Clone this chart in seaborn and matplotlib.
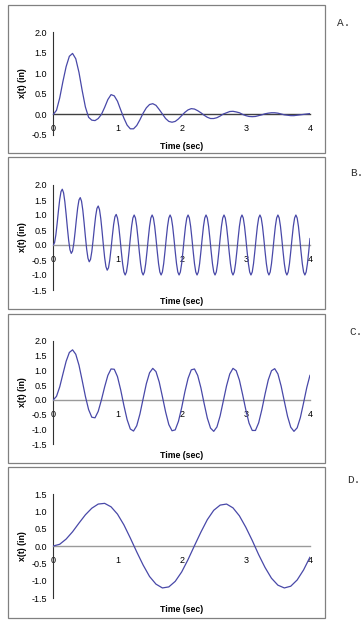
import matplotlib
matplotlib.use("Agg")
import matplotlib.pyplot as plt
from matplotlib.patches import Rectangle
import numpy as np
import seaborn as sns

W, H = 362, 636  # figure size in pixels

# sampling grids (seconds)
TIME_B = np.round(np.arange(201) * 0.02, 2)
TIME_AC = np.round(np.arange(81) * 0.05, 2)
TIME_D = np.round(np.arange(41) * 0.1, 1)

# x(t)
X_A = [
    0.00, 0.10, 0.40, 0.80, 1.16, 1.41, 1.48, 1.35, 1.02, 0.58,
    0.18, -0.07, -0.14, -0.15, -0.10, 0.00, 0.17, 0.36, 0.48, 0.45,
    0.32, 0.11, -0.09, -0.26, -0.35, -0.35, -0.27, -0.13, 0.03, 0.16,
    0.24, 0.26, 0.22, 0.12, 0.01, -0.10, -0.17, -0.19, -0.17, -0.11,
    -0.03, 0.05, 0.11, 0.14, 0.13, 0.09, 0.04, -0.02, -0.07, -0.10,
    -0.10, -0.08, -0.04, 0.01, 0.04, 0.07, 0.075, 0.06, 0.04, 0.00,
    -0.03, -0.05, -0.055, -0.05, -0.03, -0.01, 0.015, 0.03, 0.04, 0.04,
    0.03, 0.01, -0.01, -0.02, -0.03, -0.03, -0.02, -0.01, 0.00, 0.01,
    0.02,
]

X_B = [
    0.00, 0.08, 0.34, 0.72, 1.14, 1.52, 1.78, 1.86, 1.74, 1.44,
    1.02, 0.56, 0.14, -0.16, -0.28, -0.20, 0.06, 0.44, 0.86, 1.24,
    1.50, 1.58, 1.46, 1.16, 0.74, 0.28, -0.14, -0.44, -0.56, -0.48,
    -0.22, 0.16, 0.58, 0.96, 1.22, 1.30, 1.18, 0.88, 0.46, 0.00,
    -0.42, -0.72, -0.84, -0.76, -0.50, -0.12, 0.30, 0.68, 0.94, 1.02,
    0.90, 0.62, 0.22, -0.22, -0.62, -0.90,
    -1.00, -0.90, -0.62, -0.22, 0.22, 0.62, 0.90, 1.00, 0.90, 0.62, 0.22, -0.22, -0.62, -0.90,
    -1.00, -0.90, -0.62, -0.22, 0.22, 0.62, 0.90, 1.00, 0.90, 0.62, 0.22, -0.22, -0.62, -0.90,
    -1.00, -0.90, -0.62, -0.22, 0.22, 0.62, 0.90, 1.00, 0.90, 0.62, 0.22, -0.22, -0.62, -0.90,
    -1.00, -0.90, -0.62, -0.22, 0.22, 0.62, 0.90, 1.00, 0.90, 0.62, 0.22, -0.22, -0.62, -0.90,
    -1.00, -0.90, -0.62, -0.22, 0.22, 0.62, 0.90, 1.00, 0.90, 0.62, 0.22, -0.22, -0.62, -0.90,
    -1.00, -0.90, -0.62, -0.22, 0.22, 0.62, 0.90, 1.00, 0.90, 0.62, 0.22, -0.22, -0.62, -0.90,
    -1.00, -0.90, -0.62, -0.22, 0.22, 0.62, 0.90, 1.00, 0.90, 0.62, 0.22, -0.22, -0.62, -0.90,
    -1.00, -0.90, -0.62, -0.22, 0.22, 0.62, 0.90, 1.00, 0.90, 0.62, 0.22, -0.22, -0.62, -0.90,
    -1.00, -0.90, -0.62, -0.22, 0.22, 0.62, 0.90, 1.00, 0.90, 0.62, 0.22, -0.22, -0.62, -0.90,
    -1.00, -0.90, -0.62, -0.22, 0.22, 0.62, 0.90, 1.00, 0.90, 0.62, 0.22, -0.22, -0.62, -0.90,
    -1.00, -0.90, -0.62, -0.22, 0.22,
]

X_C = [
    0.00, 0.12, 0.44, 0.88, 1.31, 1.61, 1.70, 1.55, 1.18, 0.66,
    0.12, -0.33, -0.59, -0.61, -0.39, 0.00, 0.44, 0.83, 1.05, 1.04,
    0.79, 0.34, -0.19, -0.67, -0.99, -1.06, -0.88, -0.48, 0.04, 0.55,
    0.92, 1.07, 0.96, 0.61, 0.11, -0.41, -0.84, -1.05, -1.02, -0.73,
    -0.27, 0.27, 0.73, 1.02, 1.05, 0.83, 0.41, -0.12, -0.62, -0.96,
    -1.07, -0.92, -0.54, -0.03, 0.48, 0.88, 1.07, 0.99, 0.67, 0.18,
    -0.34, -0.79, -1.04, -1.04, -0.78, -0.33, 0.20, 0.68, 0.99, 1.06,
    0.88, 0.47, -0.05, -0.56, -0.93, -1.07, -0.95, -0.60, -0.10, 0.42,
    0.84,
]

X_D = [
    0.00, 0.05, 0.20, 0.41, 0.66, 0.90, 1.09, 1.21, 1.23, 1.13,
    0.92, 0.61, 0.23, -0.17, -0.55, -0.88, -1.10, -1.21, -1.18, -1.02,
    -0.75, -0.39, 0.01, 0.40, 0.76, 1.03, 1.18, 1.21, 1.10, 0.87,
    0.54, 0.16, -0.25, -0.62, -0.93, -1.13, -1.21, -1.16, -0.98, -0.69,
    -0.32,
]

LETTERS = ["A.", "B.", "C.", "D."]
XTICKS = [0, 1, 2, 3, 4]
YTICKS_A = [-0.5, 0.0, 0.5, 1.0, 1.5, 2.0]
YTICKS_BC = [-1.5, -1.0, -0.5, 0.0, 0.5, 1.0, 1.5, 2.0]
YTICKS_D = [-1.5, -1.0, -0.5, 0.0, 0.5, 1.0, 1.5]

LINE_COLOR = "#4848a8"
BOX_COLOR = "#808080"

# layout in pixels: box top/bottom, plot top/bottom, letter position, zero-axis colour
PANELS = [
    dict(t=TIME_AC, x=X_A, yticks=YTICKS_A, box=(5, 153), plot=(32, 135),
         letter=(337, 23), axis_color="#404040"),
    dict(t=TIME_B, x=X_B, yticks=YTICKS_BC, box=(157, 309), plot=(185, 290),
         letter=(350, 173), axis_color="#9a9a9a"),
    dict(t=TIME_AC, x=X_C, yticks=YTICKS_BC, box=(314, 463), plot=(341, 444),
         letter=(349, 332), axis_color="#9a9a9a"),
    dict(t=TIME_D, x=X_D, yticks=YTICKS_D, box=(467, 618), plot=(494, 598),
         letter=(347, 480), axis_color="#9a9a9a"),
]
PLOT_LEFT, PLOT_RIGHT = 53.3, 310.0
BOX_LEFT, BOX_RIGHT = 8.3, 325.0


def draw_panel(fig, panel, letter):
    top, bot = panel["plot"]
    ax = fig.add_axes([PLOT_LEFT / W, 1 - bot / H,
                       (PLOT_RIGHT - PLOT_LEFT) / W, (bot - top) / H])
    ax.patch.set_alpha(0)
    sns.lineplot(x=panel["t"], y=panel["x"], ax=ax, color=LINE_COLOR,
                 linewidth=0.9, zorder=3)
    yt = panel["yticks"]
    ax.set_xlim(0, 4)
    ax.set_ylim(yt[0], yt[-1])
    ax.spines[["top", "right"]].set_visible(False)
    ax.spines["bottom"].set_position(("data", 0))
    ax.spines["bottom"].set_color(panel["axis_color"])
    ax.spines["bottom"].set_linewidth(1.0)
    ax.spines["left"].set_color("#303030")
    ax.spines["left"].set_linewidth(0.8)
    ax.set_xticks(XTICKS)
    ax.set_xticklabels([str(v) for v in XTICKS])
    ax.set_yticks(yt)
    ax.set_yticklabels([f"{v:.1f}" for v in yt])
    ax.tick_params(axis="x", direction="out", length=2.5, width=0.8,
                   color=panel["axis_color"], pad=4.5, labelsize=6.5,
                   labelcolor="black")
    ax.tick_params(axis="y", direction="out", length=2.5, width=0.8,
                   color="#303030", pad=2.0, labelsize=6.5, labelcolor="black")
    ax.set_xlabel("")
    ax.set_ylabel("")

    b0, b1 = panel["box"]
    fig.add_artist(Rectangle((BOX_LEFT / W, 1 - b1 / H),
                             (BOX_RIGHT - BOX_LEFT) / W, (b1 - b0) / H,
                             transform=fig.transFigure, fill=False,
                             edgecolor=BOX_COLOR, linewidth=0.9))
    fig.text((PLOT_LEFT + PLOT_RIGHT) / 2 / W, 1 - (bot + 11) / H, "Time (sec)",
             ha="center", va="center", fontsize=6.3, fontweight="bold",
             color="black")
    fig.text(22.5 / W, 1 - (top + bot) / 2 / H, "x(t) (in)", rotation=90,
             ha="center", va="center", fontsize=6.3, fontweight="bold",
             color="black")
    lx, ly = panel["letter"]
    fig.text(lx / W, 1 - ly / H, letter, ha="left", va="center",
             fontsize=8, family="Liberation Mono", color="#303030")


def main():
    sns.set_theme(style="white")
    plt.rcParams["font.family"] = ["Liberation Sans", "DejaVu Sans"]
    plt.rcParams["axes.unicode_minus"] = False

    fig = plt.figure(figsize=(W / 100, H / 100), dpi=100)
    fig.patch.set_facecolor("white")
    for panel, letter in zip(PANELS, LETTERS):
        assert len(panel["t"]) == len(panel["x"])
        draw_panel(fig, panel, letter)
    fig.savefig("out.png", dpi=100)
    plt.close(fig)


if __name__ == "__main__":
    main()
